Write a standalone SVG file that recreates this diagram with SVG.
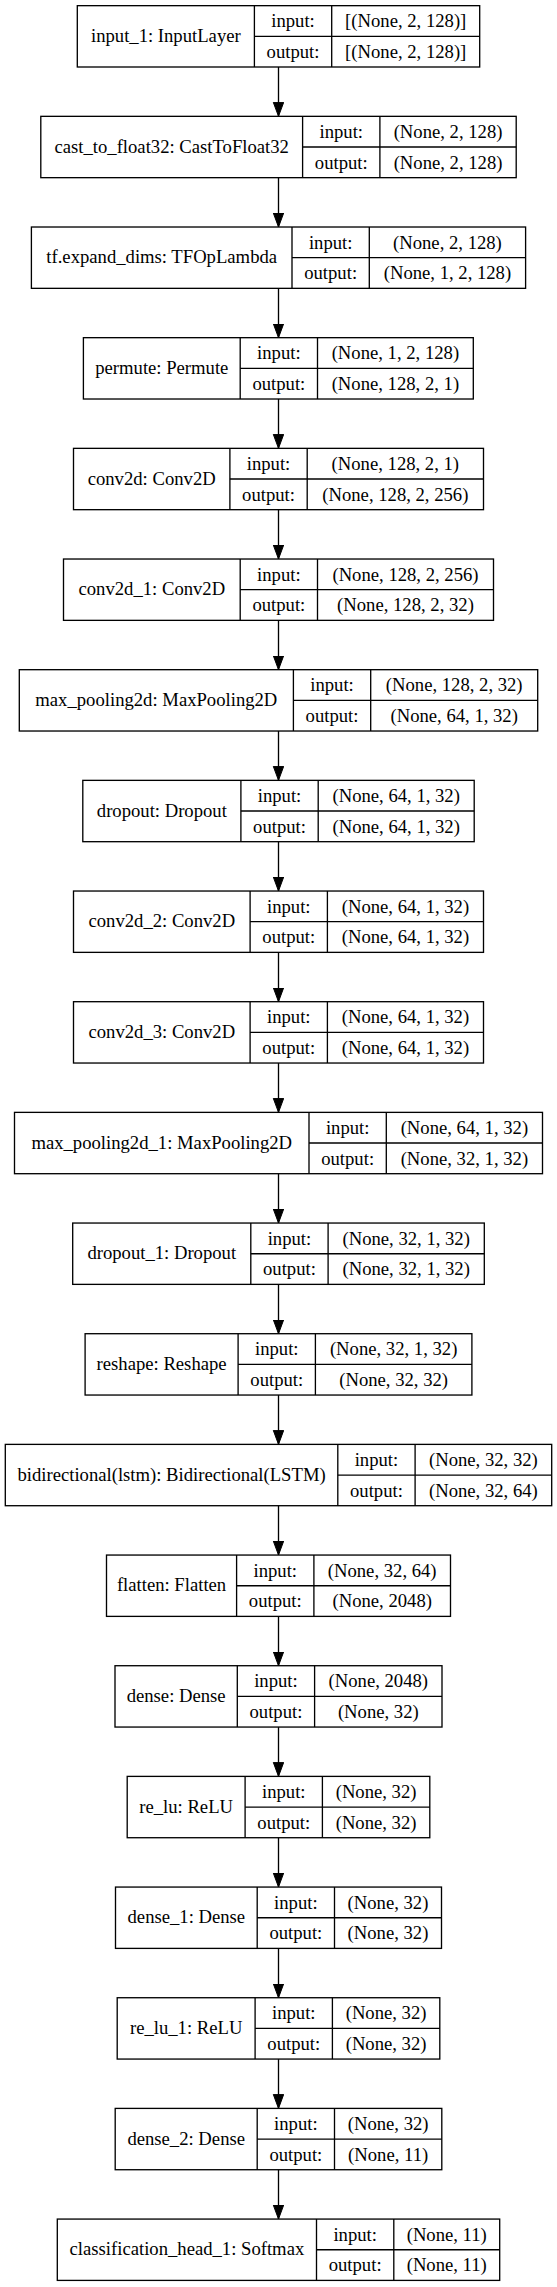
<svg xmlns="http://www.w3.org/2000/svg" width="557" height="2287" viewBox="0 0 557 2287">
<style>
.b{fill:#fff;stroke:#000;stroke-width:1.33}
.l{stroke:#000;stroke-width:1.33}
text{font-family:"Liberation Serif","Times New Roman",serif;font-size:18.67px;fill:#000;text-anchor:middle}
.e{stroke:#000;stroke-width:1.33;fill:none}
</style>
<defs>
<marker id="ah" markerUnits="userSpaceOnUse" markerWidth="15" markerHeight="12" refX="14" refY="5.2" orient="auto">
<path d="M0,0 L14,5.2 L0,10.4 z" fill="#000" stroke="#000" stroke-width="1"/>
</marker>
</defs>
<rect width="557" height="2287" fill="#fff"/>
<g id="connectors">
<line class="e" x1="278.5" y1="67" x2="278.5" y2="116.34" marker-end="url(#ah)"/>
<line class="e" x1="278.5" y1="177.67" x2="278.5" y2="227.01" marker-end="url(#ah)"/>
<line class="e" x1="278.5" y1="288.34" x2="278.5" y2="337.68" marker-end="url(#ah)"/>
<line class="e" x1="278.5" y1="399.01" x2="278.5" y2="448.35" marker-end="url(#ah)"/>
<line class="e" x1="278.5" y1="509.68" x2="278.5" y2="559.02" marker-end="url(#ah)"/>
<line class="e" x1="278.5" y1="620.35" x2="278.5" y2="669.69" marker-end="url(#ah)"/>
<line class="e" x1="278.5" y1="731.02" x2="278.5" y2="780.36" marker-end="url(#ah)"/>
<line class="e" x1="278.5" y1="841.69" x2="278.5" y2="891.03" marker-end="url(#ah)"/>
<line class="e" x1="278.5" y1="952.36" x2="278.5" y2="1001.7" marker-end="url(#ah)"/>
<line class="e" x1="278.5" y1="1063.03" x2="278.5" y2="1112.37" marker-end="url(#ah)"/>
<line class="e" x1="278.5" y1="1173.7" x2="278.5" y2="1223.04" marker-end="url(#ah)"/>
<line class="e" x1="278.5" y1="1284.37" x2="278.5" y2="1333.71" marker-end="url(#ah)"/>
<line class="e" x1="278.5" y1="1395.04" x2="278.5" y2="1444.38" marker-end="url(#ah)"/>
<line class="e" x1="278.5" y1="1505.71" x2="278.5" y2="1555.05" marker-end="url(#ah)"/>
<line class="e" x1="278.5" y1="1616.38" x2="278.5" y2="1665.72" marker-end="url(#ah)"/>
<line class="e" x1="278.5" y1="1727.05" x2="278.5" y2="1776.39" marker-end="url(#ah)"/>
<line class="e" x1="278.5" y1="1837.72" x2="278.5" y2="1887.06" marker-end="url(#ah)"/>
<line class="e" x1="278.5" y1="1948.39" x2="278.5" y2="1997.73" marker-end="url(#ah)"/>
<line class="e" x1="278.5" y1="2059.06" x2="278.5" y2="2108.4" marker-end="url(#ah)"/>
<line class="e" x1="278.5" y1="2169.73" x2="278.5" y2="2219.07" marker-end="url(#ah)"/>
</g>

<g id="input_1" transform="translate(0,5.67)">
<rect class="b" x="77.3" y="0" width="402.4" height="61.33"/>
<line class="l" x1="254.4" y1="0" x2="254.4" y2="61.33"/><line class="l" x1="331.7" y1="0" x2="331.7" y2="61.33"/><line class="l" x1="254.4" y1="30.67" x2="479.7" y2="30.67"/>
<text x="165.85" y="36.3">input_1: InputLayer</text>
<text x="293.05" y="21.5">input:</text><text x="293.05" y="52.2">output:</text>
<text x="405.7" y="21.5">[(None, 2, 128)]</text><text x="405.7" y="52.2">[(None, 2, 128)]</text>
</g>

<g id="cast_to_float32" transform="translate(0,116.34)">
<rect class="b" x="40.8" y="0" width="475.4" height="61.33"/>
<line class="l" x1="302.6" y1="0" x2="302.6" y2="61.33"/><line class="l" x1="379.9" y1="0" x2="379.9" y2="61.33"/><line class="l" x1="302.6" y1="30.67" x2="516.2" y2="30.67"/>
<text x="171.7" y="36.3">cast_to_float32: CastToFloat32</text>
<text x="341.25" y="21.5">input:</text><text x="341.25" y="52.2">output:</text>
<text x="448.05" y="21.5">(None, 2, 128)</text><text x="448.05" y="52.2">(None, 2, 128)</text>
</g>

<g id="tf_expand_dims" transform="translate(0,227.01)">
<rect class="b" x="31.4" y="0" width="494.2" height="61.33"/>
<line class="l" x1="292" y1="0" x2="292" y2="61.33"/><line class="l" x1="369.3" y1="0" x2="369.3" y2="61.33"/><line class="l" x1="292" y1="30.67" x2="525.6" y2="30.67"/>
<text x="161.7" y="36.3">tf.expand_dims: TFOpLambda</text>
<text x="330.65" y="21.5">input:</text><text x="330.65" y="52.2">output:</text>
<text x="447.45" y="21.5">(None, 2, 128)</text><text x="447.45" y="52.2">(None, 1, 2, 128)</text>
</g>

<g id="permute" transform="translate(0,337.68)">
<rect class="b" x="83.4" y="0" width="389.9" height="61.33"/>
<line class="l" x1="240.2" y1="0" x2="240.2" y2="61.33"/><line class="l" x1="317.5" y1="0" x2="317.5" y2="61.33"/><line class="l" x1="240.2" y1="30.67" x2="473.3" y2="30.67"/>
<text x="161.8" y="36.3">permute: Permute</text>
<text x="278.85" y="21.5">input:</text><text x="278.85" y="52.2">output:</text>
<text x="395.4" y="21.5">(None, 1, 2, 128)</text><text x="395.4" y="52.2">(None, 128, 2, 1)</text>
</g>

<g id="conv2d" transform="translate(0,448.35)">
<rect class="b" x="73.5" y="0" width="410" height="61.33"/>
<line class="l" x1="229.9" y1="0" x2="229.9" y2="61.33"/><line class="l" x1="307.2" y1="0" x2="307.2" y2="61.33"/><line class="l" x1="229.9" y1="30.67" x2="483.5" y2="30.67"/>
<text x="151.7" y="36.3">conv2d: Conv2D</text>
<text x="268.55" y="21.5">input:</text><text x="268.55" y="52.2">output:</text>
<text x="395.35" y="21.5">(None, 128, 2, 1)</text><text x="395.35" y="52.2">(None, 128, 2, 256)</text>
</g>

<g id="conv2d_1" transform="translate(0,559.02)">
<rect class="b" x="63.5" y="0" width="430" height="61.33"/>
<line class="l" x1="240.2" y1="0" x2="240.2" y2="61.33"/><line class="l" x1="317.5" y1="0" x2="317.5" y2="61.33"/><line class="l" x1="240.2" y1="30.67" x2="493.5" y2="30.67"/>
<text x="151.85" y="36.3">conv2d_1: Conv2D</text>
<text x="278.85" y="21.5">input:</text><text x="278.85" y="52.2">output:</text>
<text x="405.5" y="21.5">(None, 128, 2, 256)</text><text x="405.5" y="52.2">(None, 128, 2, 32)</text>
</g>

<g id="max_pooling2d" transform="translate(0,669.69)">
<rect class="b" x="19.3" y="0" width="518.4" height="61.33"/>
<line class="l" x1="293.4" y1="0" x2="293.4" y2="61.33"/><line class="l" x1="370.7" y1="0" x2="370.7" y2="61.33"/><line class="l" x1="293.4" y1="30.67" x2="537.7" y2="30.67"/>
<text x="156.35" y="36.3">max_pooling2d: MaxPooling2D</text>
<text x="332.05" y="21.5">input:</text><text x="332.05" y="52.2">output:</text>
<text x="454.2" y="21.5">(None, 128, 2, 32)</text><text x="454.2" y="52.2">(None, 64, 1, 32)</text>
</g>

<g id="dropout" transform="translate(0,780.36)">
<rect class="b" x="82.8" y="0" width="391.4" height="61.33"/>
<line class="l" x1="240.9" y1="0" x2="240.9" y2="61.33"/><line class="l" x1="318.2" y1="0" x2="318.2" y2="61.33"/><line class="l" x1="240.9" y1="30.67" x2="474.2" y2="30.67"/>
<text x="161.85" y="36.3">dropout: Dropout</text>
<text x="279.55" y="21.5">input:</text><text x="279.55" y="52.2">output:</text>
<text x="396.2" y="21.5">(None, 64, 1, 32)</text><text x="396.2" y="52.2">(None, 64, 1, 32)</text>
</g>

<g id="conv2d_2" transform="translate(0,891.03)">
<rect class="b" x="73.5" y="0" width="410" height="61.33"/>
<line class="l" x1="250.1" y1="0" x2="250.1" y2="61.33"/><line class="l" x1="327.4" y1="0" x2="327.4" y2="61.33"/><line class="l" x1="250.1" y1="30.67" x2="483.5" y2="30.67"/>
<text x="161.8" y="36.3">conv2d_2: Conv2D</text>
<text x="288.75" y="21.5">input:</text><text x="288.75" y="52.2">output:</text>
<text x="405.45" y="21.5">(None, 64, 1, 32)</text><text x="405.45" y="52.2">(None, 64, 1, 32)</text>
</g>

<g id="conv2d_3" transform="translate(0,1001.7)">
<rect class="b" x="73.5" y="0" width="410" height="61.33"/>
<line class="l" x1="250.1" y1="0" x2="250.1" y2="61.33"/><line class="l" x1="327.4" y1="0" x2="327.4" y2="61.33"/><line class="l" x1="250.1" y1="30.67" x2="483.5" y2="30.67"/>
<text x="161.8" y="36.3">conv2d_3: Conv2D</text>
<text x="288.75" y="21.5">input:</text><text x="288.75" y="52.2">output:</text>
<text x="405.45" y="21.5">(None, 64, 1, 32)</text><text x="405.45" y="52.2">(None, 64, 1, 32)</text>
</g>

<g id="max_pooling2d_1" transform="translate(0,1112.37)">
<rect class="b" x="14.5" y="0" width="528" height="61.33"/>
<line class="l" x1="309" y1="0" x2="309" y2="61.33"/><line class="l" x1="386.3" y1="0" x2="386.3" y2="61.33"/><line class="l" x1="309" y1="30.67" x2="542.5" y2="30.67"/>
<text x="161.75" y="36.3">max_pooling2d_1: MaxPooling2D</text>
<text x="347.65" y="21.5">input:</text><text x="347.65" y="52.2">output:</text>
<text x="464.4" y="21.5">(None, 64, 1, 32)</text><text x="464.4" y="52.2">(None, 32, 1, 32)</text>
</g>

<g id="dropout_1" transform="translate(0,1223.04)">
<rect class="b" x="72.7" y="0" width="411.6" height="61.33"/>
<line class="l" x1="250.8" y1="0" x2="250.8" y2="61.33"/><line class="l" x1="328.1" y1="0" x2="328.1" y2="61.33"/><line class="l" x1="250.8" y1="30.67" x2="484.3" y2="30.67"/>
<text x="161.75" y="36.3">dropout_1: Dropout</text>
<text x="289.45" y="21.5">input:</text><text x="289.45" y="52.2">output:</text>
<text x="406.2" y="21.5">(None, 32, 1, 32)</text><text x="406.2" y="52.2">(None, 32, 1, 32)</text>
</g>

<g id="reshape" transform="translate(0,1333.71)">
<rect class="b" x="85.1" y="0" width="386.8" height="61.33"/>
<line class="l" x1="238.1" y1="0" x2="238.1" y2="61.33"/><line class="l" x1="315.4" y1="0" x2="315.4" y2="61.33"/><line class="l" x1="238.1" y1="30.67" x2="471.9" y2="30.67"/>
<text x="161.6" y="36.3">reshape: Reshape</text>
<text x="276.75" y="21.5">input:</text><text x="276.75" y="52.2">output:</text>
<text x="393.65" y="21.5">(None, 32, 1, 32)</text><text x="393.65" y="52.2">(None, 32, 32)</text>
</g>

<g id="bidirectional_lstm" transform="translate(0,1444.38)">
<rect class="b" x="5.3" y="0" width="546.4" height="61.33"/>
<line class="l" x1="337.8" y1="0" x2="337.8" y2="61.33"/><line class="l" x1="415.1" y1="0" x2="415.1" y2="61.33"/><line class="l" x1="337.8" y1="30.67" x2="551.7" y2="30.67"/>
<text x="171.55" y="36.3">bidirectional(lstm): Bidirectional(LSTM)</text>
<text x="376.45" y="21.5">input:</text><text x="376.45" y="52.2">output:</text>
<text x="483.4" y="21.5">(None, 32, 32)</text><text x="483.4" y="52.2">(None, 32, 64)</text>
</g>

<g id="flatten" transform="translate(0,1555.05)">
<rect class="b" x="106.5" y="0" width="344" height="61.33"/>
<line class="l" x1="236.6" y1="0" x2="236.6" y2="61.33"/><line class="l" x1="313.9" y1="0" x2="313.9" y2="61.33"/><line class="l" x1="236.6" y1="30.67" x2="450.5" y2="30.67"/>
<text x="171.55" y="36.3">flatten: Flatten</text>
<text x="275.25" y="21.5">input:</text><text x="275.25" y="52.2">output:</text>
<text x="382.2" y="21.5">(None, 32, 64)</text><text x="382.2" y="52.2">(None, 2048)</text>
</g>

<g id="dense" transform="translate(0,1665.72)">
<rect class="b" x="115" y="0" width="327" height="61.33"/>
<line class="l" x1="237.3" y1="0" x2="237.3" y2="61.33"/><line class="l" x1="314.6" y1="0" x2="314.6" y2="61.33"/><line class="l" x1="237.3" y1="30.67" x2="442" y2="30.67"/>
<text x="176.15" y="36.3">dense: Dense</text>
<text x="275.95" y="21.5">input:</text><text x="275.95" y="52.2">output:</text>
<text x="378.3" y="21.5">(None, 2048)</text><text x="378.3" y="52.2">(None, 32)</text>
</g>

<g id="re_lu" transform="translate(0,1776.39)">
<rect class="b" x="127.2" y="0" width="302.6" height="61.33"/>
<line class="l" x1="245.1" y1="0" x2="245.1" y2="61.33"/><line class="l" x1="322.4" y1="0" x2="322.4" y2="61.33"/><line class="l" x1="245.1" y1="30.67" x2="429.8" y2="30.67"/>
<text x="186.15" y="36.3">re_lu: ReLU</text>
<text x="283.75" y="21.5">input:</text><text x="283.75" y="52.2">output:</text>
<text x="376.1" y="21.5">(None, 32)</text><text x="376.1" y="52.2">(None, 32)</text>
</g>

<g id="dense_1" transform="translate(0,1887.06)">
<rect class="b" x="115.5" y="0" width="326" height="61.33"/>
<line class="l" x1="257.2" y1="0" x2="257.2" y2="61.33"/><line class="l" x1="334.5" y1="0" x2="334.5" y2="61.33"/><line class="l" x1="257.2" y1="30.67" x2="441.5" y2="30.67"/>
<text x="186.35" y="36.3">dense_1: Dense</text>
<text x="295.85" y="21.5">input:</text><text x="295.85" y="52.2">output:</text>
<text x="388" y="21.5">(None, 32)</text><text x="388" y="52.2">(None, 32)</text>
</g>

<g id="re_lu_1" transform="translate(0,1997.73)">
<rect class="b" x="117.2" y="0" width="322.6" height="61.33"/>
<line class="l" x1="255.1" y1="0" x2="255.1" y2="61.33"/><line class="l" x1="332.4" y1="0" x2="332.4" y2="61.33"/><line class="l" x1="255.1" y1="30.67" x2="439.8" y2="30.67"/>
<text x="186.15" y="36.3">re_lu_1: ReLU</text>
<text x="293.75" y="21.5">input:</text><text x="293.75" y="52.2">output:</text>
<text x="386.1" y="21.5">(None, 32)</text><text x="386.1" y="52.2">(None, 32)</text>
</g>

<g id="dense_2" transform="translate(0,2108.4)">
<rect class="b" x="115.2" y="0" width="326.6" height="61.33"/>
<line class="l" x1="257.2" y1="0" x2="257.2" y2="61.33"/><line class="l" x1="334.5" y1="0" x2="334.5" y2="61.33"/><line class="l" x1="257.2" y1="30.67" x2="441.8" y2="30.67"/>
<text x="186.2" y="36.3">dense_2: Dense</text>
<text x="295.85" y="21.5">input:</text><text x="295.85" y="52.2">output:</text>
<text x="388.15" y="21.5">(None, 32)</text><text x="388.15" y="52.2">(None, 11)</text>
</g>

<g id="classification_head_1" transform="translate(0,2219.07)">
<rect class="b" x="57.3" y="0" width="442.4" height="61.33"/>
<line class="l" x1="316.5" y1="0" x2="316.5" y2="61.33"/><line class="l" x1="393.8" y1="0" x2="393.8" y2="61.33"/><line class="l" x1="316.5" y1="30.67" x2="499.7" y2="30.67"/>
<text x="186.9" y="36.3">classification_head_1: Softmax</text>
<text x="355.15" y="21.5">input:</text><text x="355.15" y="52.2">output:</text>
<text x="446.75" y="21.5">(None, 11)</text><text x="446.75" y="52.2">(None, 11)</text>
</g>
</svg>
